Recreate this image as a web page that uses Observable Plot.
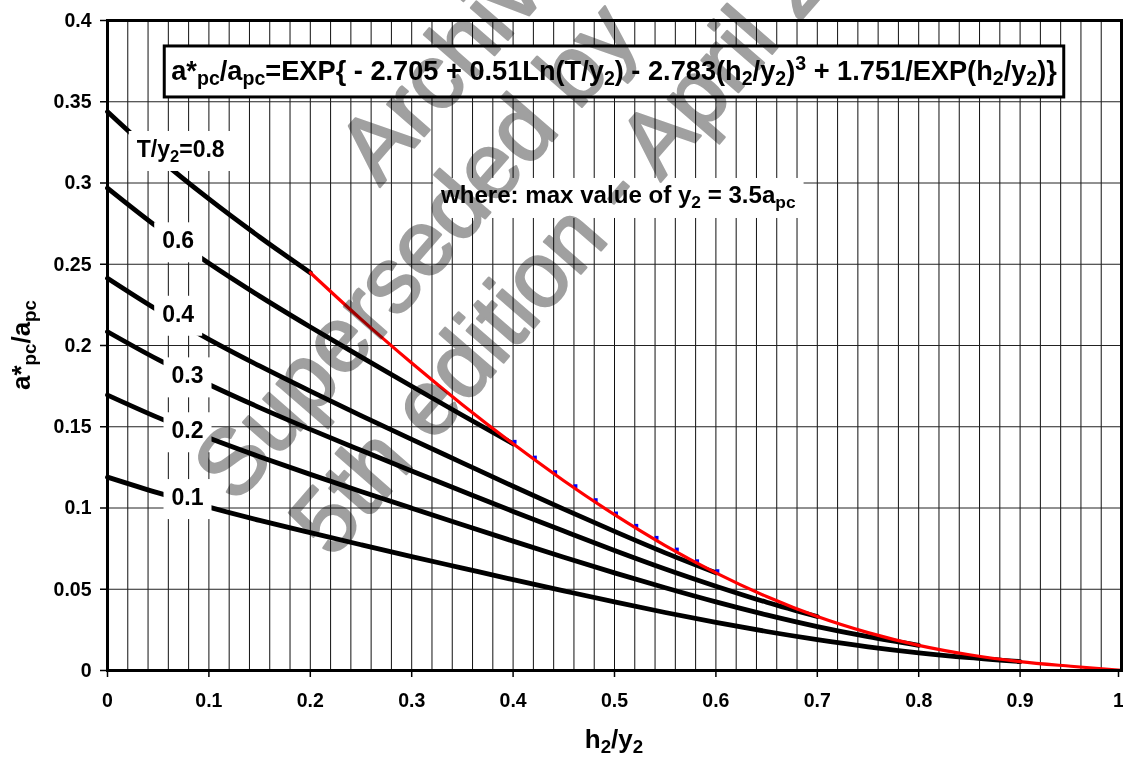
<!DOCTYPE html>
<html><head><meta charset="utf-8">
<script src="https://cdn.jsdelivr.net/npm/d3@7"></script>
<script src="https://cdn.jsdelivr.net/npm/@observablehq/plot@0.6"></script>
<style>
html,body{margin:0;padding:0;background:#fff;}
#chart svg{display:block;}
</style></head><body><div id="chart"></div>
<script>
// ---- data ----
const hGrid = [0,0.05,0.1,0.15,0.2,0.25,0.3,0.35,0.4,0.45,0.5,0.55,0.6,0.65,0.7,0.75,0.8,0.85,0.9,0.95,1];
const curveT = ["0.8","0.6","0.4","0.3","0.2","0.1"];
const vT08 = [0.3438,0.3155,0.2902,0.2668,0.2448];
const vT06 = [0.2969,0.2725,0.2506,0.2304,0.2114,0.1930,0.1749,0.1571,0.1395];
const vT04 = [0.2414,0.2216,0.2038,0.1874,0.1719,0.1569,0.1422,0.1278,0.1134,0.0993,0.0856,0.0724,0.0601];
const vT03 = [0.2085,0.1913,0.1760,0.1618,0.1484,0.1355,0.1228,0.1103,0.0979,0.0858,0.0739,0.0625,0.0519,0.0420,0.0332];
const vT02 = [0.1695,0.1556,0.1431,0.1316,0.1207,0.1102,0.0999,0.0897,0.0796,0.0697,0.0601,0.0509,0.0422,0.0342,0.0270,0.0208,0.0155];
const vT01 = [0.1190,0.1093,0.1005,0.0924,0.0848,0.0774,0.0701,0.0630,0.0559,0.0490,0.0422,0.0357,0.0296,0.0240,0.0190,0.0146,0.0109,0.0079,0.0055];
const envH = [0.2,0.25,0.3,0.35,0.4,0.45,0.5,0.55,0.6,0.65,0.7,0.75,0.8,0.85,0.9,0.95,1];
const envV = [0.2448,0.2162,0.1892,0.1636,0.1395,0.1168,0.0959,0.0769,0.0601,0.0455,0.0332,0.0233,0.0155,0.0097,0.0055,0.0026,0];
const markH = [0.40,0.42,0.44,0.46,0.48,0.50,0.52,0.54,0.56,0.58,0.60];
const markV = [0.1395,0.1298,0.1208,0.1122,0.1036,0.0954,0.0878,0.0804,0.0732,0.0660,0.0599];
const xTicks = [0,0.1,0.2,0.3,0.4,0.5,0.6,0.7,0.8,0.9];
const xLastTick = [1];
const yTicks = [0,0.05,0.1,0.15,0.2,0.25,0.3,0.35,0.4];
const labelText = ["T/y_{2}=0.8","0.6","0.4","0.3","0.2","0.1"];
const labelX = [0.0727,0.0702,0.0702,0.0794,0.0794,0.0794];
const labelY = [0.3157,0.2595,0.2143,0.1764,0.1426,0.1015];
const formulaText = "a*_{pc}/a_{pc}=EXP{ - 2.705 + 0.51Ln(T/y_{2}) - 2.783(h_{2}/y_{2})^{3} + 1.751/EXP(h_{2}/y_{2})}";
const noteText = "where: max value of y_{2} = 3.5a_{pc}";
const xTitle = "h_{2}/y_{2}";
const yTitle = "a*_{pc}/a_{pc}";
const watermark = ["Archived by", "Superseded by", "5th edition - April 2"];

// ---- build tables ----
const seriesVals = [vT08, vT06, vT04, vT03, vT02, vT01];
const curves = [];
seriesVals.forEach((vals, k) => vals.forEach((v, i) => curves.push({T: curveT[k], h: hGrid[i], v})));
const envelope = envH.map((h, i) => ({h, v: envV[i]}));
const markers = markH.map((h, i) => ({h, v: markV[i]}));
const xGrid = d3.range(1, 50).map(i => i / 50);
const yGrid = [0.05,0.1,0.15,0.2,0.25,0.3,0.35];

const FONT = "Liberation Sans, Arial, Helvetica, sans-serif";
const ctx = document.createElement("canvas").getContext("2d");
function parts(str) {
  const out = []; const re = /([_^])\{([^}]*)\}/g; let last = 0, m;
  while ((m = re.exec(str))) {
    if (m.index > last) out.push({t: str.slice(last, m.index), k: ""});
    out.push({t: m[2], k: m[1]}); last = re.lastIndex;
  }
  if (last < str.length) out.push({t: str.slice(last), k: ""});
  return out;
}
function measure(str, size, weight = "bold") {
  let w = 0;
  for (const p of parts(str)) {
    ctx.font = `${weight} ${p.k ? size * 0.72 : size}px ${FONT}`;
    w += ctx.measureText(p.t).width;
  }
  return w;
}
function rich(textSel, str, size) {
  let shift = 0;
  for (const p of parts(str)) {
    const target = p.k === "_" ? size * 0.2 : p.k === "^" ? -size * 0.38 : 0;
    const ts = textSel.append("tspan").text(p.t);
    if (target !== shift) ts.attr("dy", target - shift);
    if (p.k) ts.attr("font-size", size * 0.72);
    shift = target;
  }
}

function annotations(index, scales) {
  const {x, y} = scales;
  const g = d3.create("svg:g").attr("font-family", FONT).attr("font-weight", "bold")
    .attr("fill", "black").attr("text-anchor", "start");
  labelText.forEach((s, i) => {
    const size = 23, w = measure(s, size);
    const cx = x(labelX[i]), by = y(labelY[i]);
    g.append("rect").attr("x", cx - w / 2 - 8).attr("y", by - 26).attr("width", w + 16).attr("height", 40).attr("fill", "white");
    const t = g.append("text").attr("x", cx - w / 2).attr("y", by).attr("font-size", size);
    rich(t, s, size);
  });
  {
    const size = 27.2, w = measure(formulaText, size);
    const cx = x(0.5), by = y(0.3631);
    g.append("rect").attr("x", cx - w / 2 - 7).attr("y", by - 34).attr("width", w + 14).attr("height", 51)
      .attr("fill", "white").attr("stroke", "black").attr("stroke-width", 3);
    const t = g.append("text").attr("x", cx - w / 2).attr("y", by).attr("font-size", size);
    rich(t, formulaText, size);
  }
  {
    const size = 24.1, w = measure(noteText, size);
    const cx = x(0.5042), by = y(0.2874);
    g.append("rect").attr("x", cx - w / 2 - 8).attr("y", by - 25).attr("width", w + 16).attr("height", 40).attr("fill", "white");
    const t = g.append("text").attr("x", cx - w / 2).attr("y", by).attr("font-size", size);
    rich(t, noteText, size);
  }
  return g.node();
}

function titles(index, scales) {
  const {x, y} = scales;
  const g = d3.create("svg:g").attr("font-family", FONT).attr("font-weight", "bold")
    .attr("fill", "black").attr("text-anchor", "start");
  const size = 26;
  const wx = measure(xTitle, size);
  const tx = g.append("text").attr("x", x(0.5) - wx / 2).attr("y", y(-0.0478)).attr("font-size", size);
  rich(tx, xTitle, size);
  const wy = measure(yTitle, size);
  const ty = g.append("text").attr("transform", `translate(${x(-0.0755)},${y(0.2)}) rotate(-90)`)
    .attr("x", -wy / 2).attr("y", 0).attr("font-size", size);
  rich(ty, yTitle, size);
  return g.node();
}

function watermarkMark(index, scales) {
  const {x, y} = scales;
  const anchors = [[0.2689, 0.2972], [0.1269, 0.1015], [0.2216, 0.0677]];
  const g = d3.create("svg:g").attr("font-family", FONT).attr("font-size", 92)
    .attr("font-weight", "normal").attr("text-anchor", "start")
    .attr("fill", "#a0a0a0").attr("stroke", "#a0a0a0").attr("stroke-width", 2.5)
    .attr("stroke-linejoin", "round").style("mix-blend-mode", "multiply");
  watermark.forEach((s, i) => {
    g.append("text").attr("transform", `translate(${x(anchors[i][0])},${y(anchors[i][1])}) rotate(-49)`).text(s);
  });
  return g.node();
}

const axisStyle = {tickSize: 7, tickFormat: d => String(d), label: null, strokeWidth: 1.5, fontSize: 19.5, fontWeight: "bold"};

const chart = Plot.plot({
  width: 1123, height: 759,
  marginLeft: 107, marginRight: 2, marginTop: 20, marginBottom: 89,
  style: {fontFamily: FONT, fontSize: "19.5px", fontWeight: "bold", color: "black", background: "white"},
  x: {domain: [0, 1]},
  y: {domain: [0, 0.4]},
  marks: [
    Plot.ruleX(xGrid, {stroke: "#111", strokeWidth: 1}),
    Plot.ruleY(yGrid, {stroke: "#222", strokeWidth: 1}),
    Plot.line(curves, {x: "h", y: "v", z: "T", stroke: "black", strokeWidth: 4.8, curve: "monotone-x"}),
    Plot.dot(markers, {x: "h", y: "v", symbol: "square", r: 2.2, fill: "#0000ff", stroke: "none", dx: 1.5, dy: -2}),
    Plot.line(envelope, {x: "h", y: "v", stroke: "#ff0000", strokeWidth: 3.2, curve: "monotone-x"}),
    annotations,
    Plot.frame({stroke: "black", strokeWidth: 3}),
    Plot.axisX({...axisStyle, ticks: xTicks, tickPadding: 16}),
    Plot.axisX({...axisStyle, ticks: xLastTick, tickPadding: 16, dx: -3}),
    Plot.axisY({...axisStyle, ticks: yTicks, tickPadding: 9}),
    titles,
    watermarkMark
  ]
});
document.getElementById("chart").appendChild(chart);
</script>
</body></html>
